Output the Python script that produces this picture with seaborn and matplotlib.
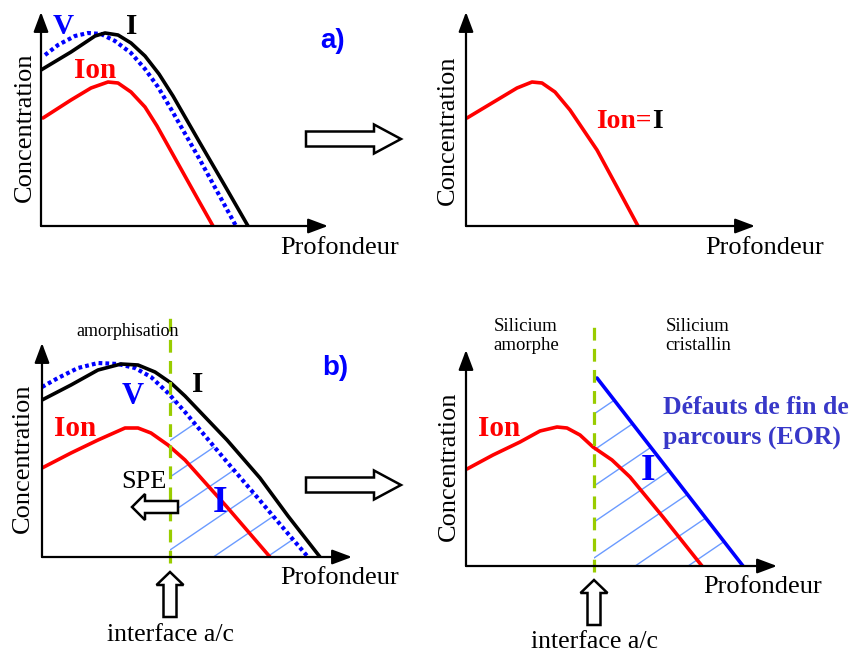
import numpy as np
import matplotlib
matplotlib.use("Agg")
import matplotlib.pyplot as plt
import matplotlib.patches as mpatches
import seaborn as sns

sns.set_style("white")
plt.rcParams["font.family"] = ["Liberation Serif", "DejaVu Serif"]

W, H = 855, 653

# ---- profile data (arbitrary units: depth / concentration) ----
# a) left panel
a_I_depth = [0, 30, 54, 64, 77, 90, 104, 118, 132, 159, 184, 207]
a_I_conc = [156, 174, 190, 193, 191, 183, 170, 152, 130, 83, 40, 0]
a_V_depth = [4, 17, 34, 47, 60, 74, 90, 104, 117, 130, 159, 195]
a_V_conc = [171, 181, 190, 193, 192, 185, 173, 157, 139, 117, 66, 0]
a_ion_depth = [2, 30, 50, 67, 77, 90, 104, 116, 159, 172]
a_ion_conc = [108, 126, 138, 144, 143, 134, 119, 100, 23, 0]

# a) right panel : Ion = I
ar_ion_depth = [1, 31, 51, 66, 76, 89, 104, 131, 151, 172]
ar_ion_conc = [108, 126, 138, 144, 143, 134, 116, 76, 39, 0]

# b) left panel
b_I_depth = [0, 29, 56, 79, 96, 113, 129, 143, 185, 218, 246, 278]
b_I_conc = [157, 172, 187, 193, 192, 185, 174, 161, 117, 79, 41, 0]
b_V_depth = [0, 16, 36, 56, 76, 93, 109, 126, 143, 185, 215, 248, 266]
b_V_conc = [170, 179, 189, 194, 193, 189, 180, 164, 145, 95, 60, 21, 0]
b_ion_depth = [0, 29, 56, 83, 96, 109, 126, 143, 151, 185, 228]
b_ion_conc = [89, 104, 117, 129, 129, 124, 112, 97, 88, 50, 0]
b_interface = 128

# b) right panel
br_ion_depth = [1, 27, 54, 74, 91, 101, 114, 127, 146, 164, 197, 236]
br_ion_conc = [97, 111, 124, 135, 139, 138, 131, 119, 106, 89, 49, 0]
br_eor_depth = [131, 277]
br_eor_conc = [188, 0]
br_interface = 128

RED = "#ff0000"
BLUE = "#0000ff"
GREEN = "#99cc00"
HATCH = "#6b9bff"
EOR_TXT = "#3838c8"

fig = plt.figure(figsize=(W / 100, H / 100), dpi=100)

# overlay in pixel coordinates for labels and hollow arrows
ov = fig.add_axes([0, 0, 1, 1], zorder=5)
ov.set_xlim(0, W)
ov.set_ylim(H, 0)
ov.axis("off")


def panel(x0, y0, w, h):
    ax = fig.add_axes([x0 / W, (H - y0) / H, w / W, h / H])
    ax.set_xlim(0, w)
    ax.set_ylim(0, h)
    ax.axis("off")
    for tip in [(1, 0), (0, 1)]:
        ax.annotate("", xy=tip, xytext=(0, 0), xycoords="axes fraction",
                    arrowprops=dict(arrowstyle="-|>,head_length=0.8,head_width=0.3",
                                    mutation_scale=15, lw=1.6, color="black",
                                    shrinkA=0, shrinkB=0))
    return ax


def curve(ax, x, y, color, dotted=False):
    if dotted:
        kw = dict(linestyle=(0, (0.9, 0.75)), lw=3.0, dash_capstyle="butt")
    else:
        kw = dict(lw=2.6, solid_joinstyle="round")
    sns.lineplot(x=x, y=y, ax=ax, color=color, sort=False, estimator=None, **kw)


def hatch(ax, xs, ys, x_start, first, step, n):
    xs = np.asarray(xs, float)
    ys = np.asarray(ys, float)
    keep = xs > x_start
    verts = [(x_start, 0), (x_start, np.interp(x_start, xs, ys))]
    verts += list(zip(xs[keep], ys[keep]))
    verts += [(xs[-1], 0)]
    clip = mpatches.Polygon(verts, closed=True, fc="none", ec="none",
                            transform=ax.transData)
    ax.add_patch(clip)
    for k in range(-4, n):
        c0 = first + step * k
        ln, = ax.plot([x_start, x_start + 400], [c0, c0 + 0.68 * 400],
                      color=HATCH, lw=1.0)
        ln.set_clip_path(clip)


def hollow(x, y, dx, dy, width, head_w, head_l):
    ov.add_patch(mpatches.FancyArrow(x, y, dx, dy, width=width, head_width=head_w,
                                     head_length=head_l, length_includes_head=True,
                                     fc="white", ec="black", lw=1.8))


def txt(x, y, s, size=19, color="black", weight="normal", **kw):
    ov.text(x, y, s, fontsize=size, color=color, fontweight=weight,
            ha=kw.pop("ha", "center"), va=kw.pop("va", "center"), **kw)


# ---- panel a) left ----
ax = panel(41, 226, 287, 214)
curve(ax, a_ion_depth, a_ion_conc, RED)
curve(ax, a_V_depth, a_V_conc, BLUE, dotted=True)
curve(ax, a_I_depth, a_I_conc, "black")

# ---- panel a) right ----
ax = panel(466, 226, 289, 214)
curve(ax, ar_ion_depth, ar_ion_conc, RED)

# ---- panel b) left ----
ax = panel(42, 557, 310, 214)
hatch(ax, b_V_depth, b_V_conc, b_interface, 7, 36.5, 6)
curve(ax, b_ion_depth, b_ion_conc, RED)
curve(ax, b_V_depth, b_V_conc, BLUE, dotted=True)
curve(ax, b_I_depth, b_I_conc, "black")
ax.axvline(b_interface, ymin=-0.03, ymax=1.13, color=GREEN, lw=2.3,
           linestyle=(0, (4, 2.6)), clip_on=False)

# ---- panel b) right ----
ax = panel(466, 566, 311, 216)
hatch(ax, [br_interface] + br_eor_depth, [br_eor_conc[0]] + br_eor_conc,
      br_interface, 8, 36, 6)
curve(ax, br_ion_depth, br_ion_conc, RED)
curve(ax, br_eor_depth, br_eor_conc, BLUE)
ax.axvline(br_interface, ymin=-0.03, ymax=1.12, color=GREEN, lw=2.3,
           linestyle=(0, (4, 2.6)), clip_on=False)

# ---- hollow arrows ----
hollow(306, 139, 95, 0, 15, 29, 27)
hollow(306, 485, 95, 0, 15, 29, 27)
hollow(178, 507, -46, 0, 12, 26, 13)
hollow(170, 617, 0, -45, 13, 27, 13)
hollow(594, 625, 0, -45, 13, 27, 13)

# ---- labels ----
for cx, cy in [(25, 127), (448, 130), (23, 458), (449, 466)]:
    txt(cx, cy, "Concentration", rotation=90)
for cx, cy in [(340, 248), (765, 248), (340, 578), (763, 587)]:
    txt(cx, cy, "Profondeur")

txt(63, 27, "V", 21, BLUE, "bold")
txt(132, 27, "I", 21, "black", "bold")
txt(95, 70, "Ion", 21, RED, "bold")
txt(333, 41, "a)", 20, BLUE, "bold", family="Liberation Sans")

txt(652, 121, "Ion=", 20, RED, "bold", ha="right")
txt(652, 121, "I", 20, "black", "bold", ha="left")

txt(128, 332, "amorphisation", 13)
txt(335, 368, "b)", 20, BLUE, "bold", family="Liberation Sans")
txt(133, 396, "V", 22, BLUE, "bold")
txt(198, 385, "I", 21, "black", "bold")
txt(75, 428, "Ion", 21, RED, "bold")
txt(144, 482, "SPE", 19)
txt(220, 503, "I", 27, BLUE, "bold")
txt(170, 635, "interface a/c", 18.5)

txt(526, 336, "Silicium\namorphe", 13.5, linespacing=1.15)
txt(698, 336, "Silicium\ncristallin", 13.5, linespacing=1.15)
txt(499, 428, "Ion", 21, RED, "bold")
txt(648, 470, "I", 27, BLUE, "bold")
txt(663, 408, "Défauts de fin de", 18.5, EOR_TXT, "bold", ha="left")
txt(663, 438, "parcours (EOR)", 18.5, EOR_TXT, "bold", ha="left")
txt(594, 642, "interface a/c", 18.5)

fig.savefig("out.png", dpi=100)
